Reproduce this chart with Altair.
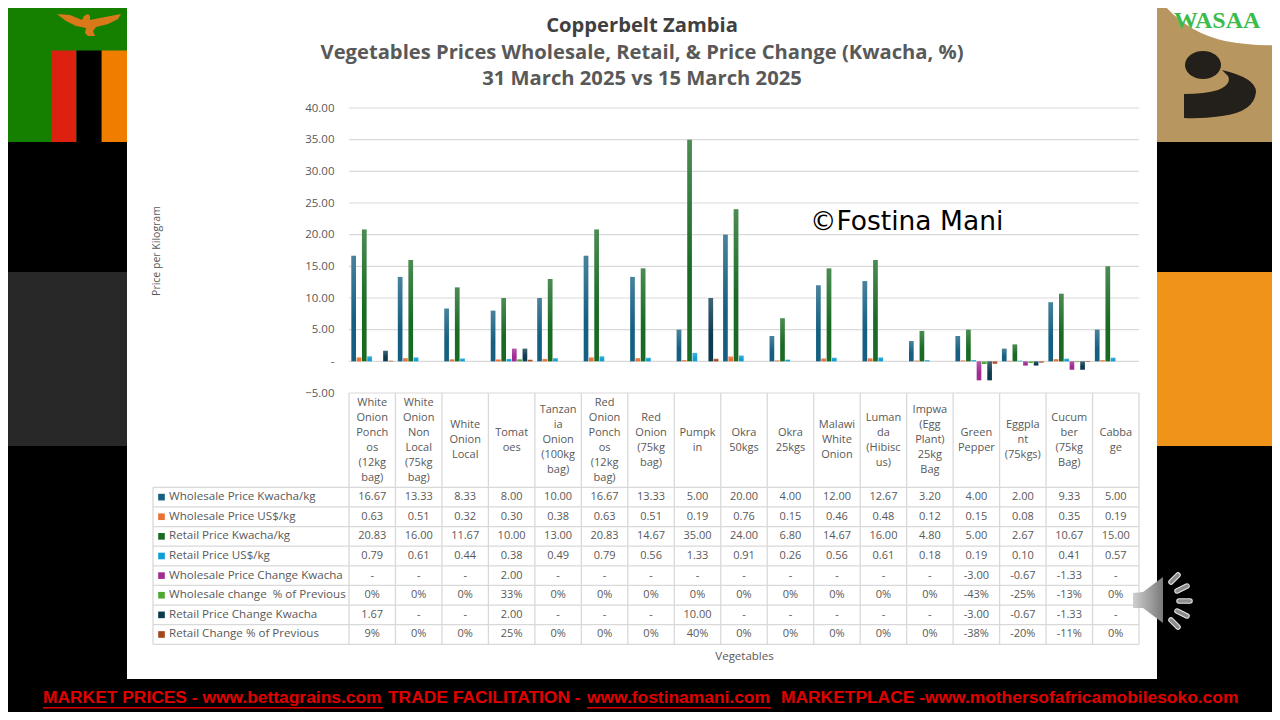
import altair as alt
import pandas as pd

CATEGORIES = [
    "White\nOnion\nPonch\nos\n(12kg\nbag)", "White\nOnion\nNon\nLocal\n(75kg\nbag)", "White\nOnion\nLocal",
    "Tomat\noes", "Tanzan\nia\nOnion\n(100kg\nbag)", "Red\nOnion\nPonch\nos\n(12kg\nbag)", "Red\nOnion\n(75kg\nbag)",
    "Pumpk\nin", "Okra\n50kgs", "Okra\n25kgs", "Malawi\nWhite\nOnion", "Luman\nda\n(Hibisc\nus)",
    "Impwa\n(Egg\nPlant)\n25kg\nBag", "Green\nPepper", "Eggpla\nnt\n(75kgs)", "Cucum\nber\n(75kg\nBag)", "Cabba\nge",
]
wholesale_kwacha = [16.67, 13.33, 8.33, 8.00, 10.00, 16.67, 13.33, 5.00, 20.00, 4.00, 12.00, 12.67, 3.20, 4.00, 2.00, 9.33, 5.00]
wholesale_usd = [0.63, 0.51, 0.32, 0.30, 0.38, 0.63, 0.51, 0.19, 0.76, 0.15, 0.46, 0.48, 0.12, 0.15, 0.08, 0.35, 0.19]
retail_kwacha = [20.83, 16.00, 11.67, 10.00, 13.00, 20.83, 14.67, 35.00, 24.00, 6.80, 14.67, 16.00, 4.80, 5.00, 2.67, 10.67, 15.00]
retail_usd = [0.79, 0.61, 0.44, 0.38, 0.49, 0.79, 0.56, 1.33, 0.91, 0.26, 0.56, 0.61, 0.18, 0.19, 0.10, 0.41, 0.57]
wholesale_change = [0, 0, 0, 2.00, 0, 0, 0, 0, 0, 0, 0, 0, 0, -3.00, -0.67, -1.33, 0]
wholesale_pct = [0, 0, 0, 0.33, 0, 0, 0, 0, 0, 0, 0, 0, 0, -0.43, -0.25, -0.13, 0]
retail_change = [1.67, 0, 0, 2.00, 0, 0, 0, 10.00, 0, 0, 0, 0, 0, -3.00, -0.67, -1.33, 0]
retail_pct = [0.09, 0, 0, 0.25, 0, 0, 0, 0.40, 0, 0, 0, 0, 0, -0.38, -0.20, -0.11, 0]

SERIES = ["Wholesale Price Kwacha/kg", "Wholesale Price US$/kg", "Retail Price Kwacha/kg", "Retail Price US$/kg",
          "Wholesale Price Change Kwacha", "Wholesale change  % of Previous", "Retail Price Change Kwacha",
          "Retail Change % of Previous"]
ROW_LABELS = ["Wholesale Price Kwacha/kg", "Wholesale Price US$/kg", "\u00a0Retail Price Kwacha/kg", "\u00a0Retail Price US$/kg",
              "Wholesale Price Change Kwacha", "Wholesale change\u00a0\u00a0% of Previous", "Retail Price Change Kwacha",
              "Retail Change % of Previous"]
COLORS = ["#156082", "#E97132", "#196B24", "#0F9ED5", "#A02B93", "#4EA72E", "#0D3A4E", "#A1471A"]
VALUES = [wholesale_kwacha, wholesale_usd, retail_kwacha, retail_usd, wholesale_change, wholesale_pct, retail_change, retail_pct]
KINDS = ["num", "num", "num", "num", "chg", "pct", "chg", "pct"]
Y_TICKS = [-5, 0, 5, 10, 15, 20, 25, 30, 35, 40]
TITLE = "Copperbelt Zambia"
SUBTITLE = ["Vegetables Prices Wholesale, Retail, & Price Change (Kwacha, %)", "31 March 2025 vs 15 March 2025"]
FOOTER = [("MARKET PRICES - www.bettagrains.com", 43), ("TRADE FACILITATION - ", 388),
          ("www.fostinamani.com", 587), ("MARKETPLACE -www.mothersofafricamobilesoko.com", 781)]


def fmt(v, kind):
    if kind == "pct":
        return f"{round(v * 100)}%"
    if kind == "chg" and v == 0:
        return "-"
    return f"{v:.2f}"


rows = []
for s, vals, kind in zip(SERIES, VALUES, KINDS):
    for c, v in zip(CATEGORIES, vals):
        rows.append({"cat": c, "series": s, "value": v, "label": fmt(v, kind)})
long_df = pd.DataFrame(rows)
cat_df = pd.DataFrame({"cat": CATEGORIES, "lines": [c.count("\n") + 1 for c in CATEGORIES]})
row_df = pd.DataFrame({"series": SERIES, "label": ROW_LABELS})
tick_df = pd.DataFrame({"tick": Y_TICKS})

# Layout: page pixel of the plot's origin
PX, PY, W, H = 349, 108, 790, 285
TXT = "#595959"
LINE = "#d9d9d9"
FONT = "Open Sans"


def rect(x1, y1, x2, y2, color):
    return alt.Chart().mark_rect(color=color, opacity=1).encode(
        x=alt.value(x1 - PX), x2=alt.value(x2 - PX), y=alt.value(y1 - PY), y2=alt.value(y2 - PY))


def shape(path, color, **kw):
    return alt.Chart().mark_point(shape=path, filled=True, size=4, fill=color, opacity=1, strokeWidth=0, **kw).encode(
        x=alt.value(-PX), y=alt.value(-PY))


def stick(x1, y1, x2, y2):
    a = alt.Chart().mark_rule(color="#e8e8e8", strokeWidth=5.5, strokeCap="round").encode(
        x=alt.value(x1 - PX), x2=alt.value(x2 - PX), y=alt.value(y1 - PY), y2=alt.value(y2 - PY))
    b = alt.Chart().mark_rule(color="#8c8c8c", strokeWidth=3.5, strokeCap="round").encode(
        x=alt.value(x1 - PX), x2=alt.value(x2 - PX), y=alt.value(y1 - PY), y2=alt.value(y2 - PY))
    return [a, b]


def label(text, x, y, **kw):
    return alt.Chart().mark_text(text=text, **kw).encode(x=alt.value(x - PX), y=alt.value(y - PY))


decor = [
    rect(127, 0, 1157, 679, "#ffffff"),
    rect(0, 272, 127, 446, "#282828"),
    rect(1157, 272, 1280, 446, "#ef9419"),
    rect(2, 0, 127, 142, "#158000"),
    rect(51.3, 50.5, 76.5, 142, "#de2010"),
    rect(76.5, 50.5, 101.7, 142, "#000000"),
    rect(101.7, 50.5, 127, 142, "#ef7d00"),
    shape("M57,14 L70,15 L82,20 L84,16 L88,14 L90,16 L90,20 L105,17 L121,14 L118,19 L108,24 L96,27 L93,31 L95,36 L88,36 "
          "L85,33 L86,28 L76,26 L66,21 Z", "#d9791a"),
    rect(1157, 0, 1278, 142, "#b7975f"),
    shape("M1160,0 Q1185,32 1225,41 Q1250,46 1278,45 L1278,0 Z", "#ffffff"),
    label("WASAA", 1217, 21, font="Liberation Serif", fontWeight="bold", fontSize=24, color="#3dbb4a", align="center", baseline="middle"),
    shape("M1185,65 A18,14 0 1 0 1221,65 A18,14 0 1 0 1185,65 Z", "#231f1a"),
    shape("M1222,70 Q1256,78 1256,92 Q1254,112 1222,116 Q1200,119 1184,118 L1184,94 Q1205,94 1218,90 Q1232,84 1228,76 Z", "#231f1a"),
]

x_scale = alt.Scale(domain=CATEGORIES, paddingInner=0, paddingOuter=0)
x_axis = alt.Axis(title="Vegetables", labels=False, ticks=False, domain=False, grid=False, zindex=1, titleY=257,
                  titleFont=FONT, titleFontSize=11.5, titleFontWeight="normal", titleColor=TXT)
y_scale = alt.Scale(domain=[-5, 40], nice=False, zero=False)
y_axis = alt.Axis(title="Price per Kilogram", values=Y_TICKS, labelExpr="datum.value == 0 ? '-' : format(datum.value, '.2f')",
                  grid=False, ticks=False, domain=False, labelPadding=15, zindex=1, titleX=-188,
                  labelFont=FONT, labelFontSize=11.5, labelColor=TXT, titleFont=FONT, titleFontSize=10.5,
                  titleFontWeight="normal", titleColor=TXT)
row_scale = alt.Scale(type="band", domain=SERIES, range=[379.3, 536.3], paddingInner=0, paddingOuter=0)
color_scale = alt.Scale(domain=SERIES, range=COLORS)
offset_scale = alt.Scale(domain=SERIES, paddingInner=0.12, paddingOuter=0.44)
X = alt.X("cat:N", scale=x_scale, sort=None, axis=x_axis)
ROW = alt.Y("series:N", scale=row_scale, axis=None)

grid = alt.Chart(tick_df).mark_rule(color=LINE, strokeWidth=1.2).encode(
    x=alt.value(0), x2=alt.value(W), y=alt.Y("tick:Q", scale=y_scale, axis=y_axis))

bars = alt.Chart(long_df).mark_bar().encode(
    x=X,
    xOffset=alt.XOffset("series:N", sort=SERIES, scale=offset_scale),
    y=alt.Y("value:Q", scale=y_scale, axis=y_axis),
    color=alt.Color("series:N", scale=color_scale, legend=None),
)
sheen = alt.Chart(long_df).mark_bar(
    fill=alt.Gradient(gradient="linear", x1=0, x2=0, y1=0, y2=1,
                      stops=[alt.GradientStop(color="rgba(255,255,255,0.22)", offset=0),
                             alt.GradientStop(color="rgba(255,255,255,0)", offset=0.6)])
).encode(
    x=X,
    xOffset=alt.XOffset("series:N", sort=SERIES, scale=offset_scale),
    y=alt.Y("value:Q", scale=y_scale, axis=y_axis),
)

plot = alt.layer(grid, bars, sheen)

v_lines = alt.Chart(cat_df).mark_rule(color=LINE, strokeWidth=1.3).encode(
    x=alt.X("cat:N", scale=x_scale, sort=None, bandPosition=0, axis=x_axis), y=alt.value(H), y2=alt.value(536.3))
v_right = alt.Chart().mark_rule(color=LINE, strokeWidth=1.3).encode(x=alt.value(W), y=alt.value(H), y2=alt.value(536.3))
v_left = alt.Chart().mark_rule(color=LINE, strokeWidth=1.3).encode(x=alt.value(-196), y=alt.value(379.3), y2=alt.value(536.3))
h_lines = alt.Chart(row_df).mark_rule(color=LINE, strokeWidth=1.3).encode(
    x=alt.value(-196), x2=alt.value(W), y=alt.Y("series:N", scale=row_scale, bandPosition=0, axis=None))
h_bottom = alt.Chart().mark_rule(color=LINE, strokeWidth=1.3).encode(x=alt.value(-196), x2=alt.value(W), y=alt.value(536.3))

header = alt.Chart(cat_df).mark_text(font=FONT, fontSize=11, color=TXT, lineBreak="\n", lineHeight=15, baseline="middle").encode(
    x=X, y=alt.Y("lines:Q", scale=alt.Scale(domain=[1, 6], range=[332.3, 294.8], nice=False, zero=False), axis=None), text="cat:N")
cells = alt.Chart(long_df).mark_text(font=FONT, fontSize=11, color=TXT, baseline="middle").encode(
    x=X, y=ROW, text="label:N")
row_names = alt.Chart(row_df).mark_text(font=FONT, fontSize=11.6, color=TXT, align="left", baseline="middle").encode(
    x=alt.value(169 - PX), y=ROW, text="label:N")
swatches = alt.Chart(row_df).mark_point(shape="square", filled=True, size=44, opacity=1).encode(
    x=alt.value(161.5 - PX), y=ROW, color=alt.Color("series:N", scale=color_scale, legend=None))

table = alt.layer(h_lines, h_bottom, v_lines, v_right, v_left, cells, row_names, swatches)

speaker = [shape("M1133,593 L1143,592 L1163,577 L1163,623 L1143,608 L1133,608 Z",
                 alt.Gradient(gradient="linear", x1=0, x2=1, y1=0, y2=0,
                              stops=[alt.GradientStop(color="#cfcfcf", offset=0), alt.GradientStop(color="#7a7a7a", offset=1)]))]
for seg in [(1171, 582, 1178, 575), (1177, 591, 1187, 586), (1179, 601, 1190, 601), (1177, 611, 1187, 616), (1171, 620, 1178, 627)]:
    speaker += stick(*seg)

footer = [label(t, x, 698, font="Liberation Sans", fontWeight="bold", fontSize=17.4, color="#e00000", align="left", baseline="middle")
          for t, x in FOOTER]
footer += [rect(43, 707, 383, 708.5, "#e00000"), rect(587, 707, 771, 708.5, "#e00000")]

mark_name = label("©Fostina Mani", 810, 222, font="DejaVu Sans", fontSize=26.5, color="#000000", align="left", baseline="middle")

chart = alt.layer(*decor, plot, table, header, mark_name, *speaker, *footer).resolve_scale(y="independent").properties(
    width=W, height=H,
    padding={"left": PX - 8, "top": PY - 8, "right": 1264 - (PX - 8) - W, "bottom": 704 - (PY - 8) - H},
    autosize=alt.AutoSizeParams(type="none"),
    background="#000000",
    title=alt.TitleParams(text=TITLE, subtitle=SUBTITLE, anchor="middle", frame="group", dx=-102, offset=-89, zindex=1,
                          font=FONT, fontSize=20.2, fontWeight="bold", color="#404040",
                          subtitleFont=FONT, subtitleFontSize=20.2, subtitleFontWeight="bold", subtitleColor=TXT,
                          subtitlePadding=7, subtitleLineHeight=26),
).configure_view(stroke=None)

chart.save("out.html", embed_options={"renderer": "svg", "actions": False})
